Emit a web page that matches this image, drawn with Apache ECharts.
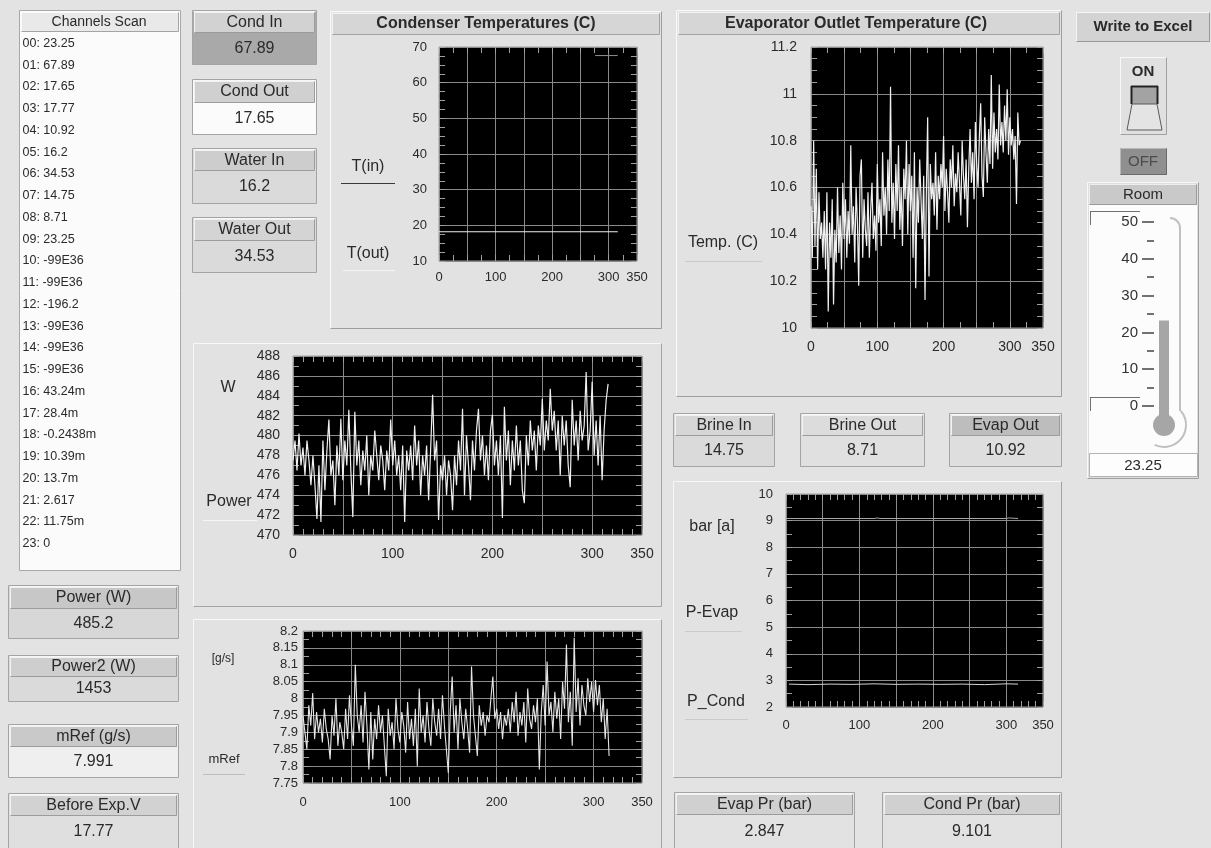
<!DOCTYPE html>
<html><head><meta charset="utf-8">
<script src="https://cdn.jsdelivr.net/npm/echarts@6/dist/echarts.min.js"></script>
<style>html,body{margin:0;padding:0;background:#e3e3e3;}#c{width:1211px;height:848px;}</style>
</head><body><div id="c"></div>
<script>
// ================= DATA =================
const channelScan = ['00: 23.25','01: 67.89','02: 17.65','03: 17.77','04: 10.92','05: 16.2','06: 34.53','07: 14.75','08: 8.71','09: 23.25','10: -99E36','11: -99E36','12: -196.2','13: -99E36','14: -99E36','15: -99E36','16: 43.24m','17: 28.4m','18: -0.2438m','19: 10.39m','20: 13.7m','21: 2.617','22: 11.75m','23: 0'];
const condBoxLabels = ['Cond In','Cond Out','Water In','Water Out'];
const condBoxValues = ['67.89','17.65','16.2','34.53'];
const leftBoxLabels = ['Power (W)','Power2 (W)','mRef (g/s)','Before Exp.V'];
const leftBoxValues = ['485.2','1453','7.991','17.77'];
const brineLabels = ['Brine In','Brine Out','Evap Out'];
const brineValues = ['14.75','8.71','10.92'];
const presLabels = ['Evap Pr (bar)','Cond Pr (bar)'];
const presValues = ['2.847','9.101'];
const xTickLabels = [0,100,200,300,350];
const roomTemp = [23.25];

const SAMPLE_STEP = 2;
const evapOutlet = [
 10.52,10.30,10.80,10.35,10.68,10.25,10.58,10.38,10.45,10.30,
 10.50,10.25,10.58,10.07,10.45,10.30,10.55,10.10,10.42,10.28,
 10.60,10.32,10.48,10.25,10.62,10.38,10.55,10.30,10.50,10.36,
 10.78,10.40,10.52,10.28,10.60,10.45,10.18,10.65,10.72,10.30,
 10.55,10.42,10.35,10.58,10.30,10.50,10.62,10.38,10.48,10.33,
 10.70,10.45,10.55,10.35,10.75,10.48,10.60,10.40,10.72,10.50,
 11.03,10.45,10.62,10.38,10.70,10.50,10.78,10.42,10.60,10.35,
 10.68,10.55,10.80,10.40,10.70,10.50,10.65,10.30,10.75,10.17,
 10.60,10.45,10.72,10.55,10.38,10.65,10.12,10.58,10.90,10.22,
 10.70,10.55,10.62,10.48,10.75,10.42,10.65,10.55,10.70,10.60,
 10.82,10.50,10.68,10.58,10.45,10.72,10.60,10.78,10.52,10.66,
 10.58,10.75,10.62,10.48,10.80,10.65,10.55,10.72,10.43,10.68,
 10.85,10.62,10.75,10.55,10.88,10.70,10.60,10.82,10.96,10.65,
 10.56,10.90,10.75,10.62,10.85,10.70,11.08,10.68,10.92,10.75,
 10.85,10.72,11.04,10.78,10.88,10.75,10.95,10.80,11.02,10.74,
 10.90,10.78,10.85,10.72,10.82,10.53,10.92,10.78,10.80];
const powerW = [
 477.5,479.5,476.5,480.2,477.0,478.8,476.0,479.5,477.5,475.0,
 478.0,475.0,471.6,477.0,471.3,479.5,474.5,478.5,481.6,476.0,
 477.5,473.0,479.0,476.0,481.7,475.5,479.5,477.0,482.6,476.5,
 471.8,482.4,477.0,479.5,475.0,478.5,476.5,480.0,474.0,478.0,
 476.5,480.5,478.0,475.5,479.0,477.5,474.5,478.5,476.5,481.6,
 477.0,479.5,476.0,478.0,474.5,479.0,471.3,478.5,476.5,479.0,
 475.5,481.0,477.0,479.5,474.0,478.0,476.0,479.0,473.5,478.5,
 484.1,477.5,479.5,471.5,477.0,475.5,478.0,474.0,477.5,476.0,
 472.5,478.0,475.0,479.5,476.5,482.7,474.0,480.0,477.0,473.5,
 479.5,476.5,480.5,482.7,477.5,480.0,476.0,479.0,475.5,480.5,
 482.1,477.0,479.5,476.0,480.0,471.7,482.9,477.5,480.5,475.0,
 479.5,476.5,481.0,477.0,479.5,474.5,473.2,480.0,477.0,481.5,
 478.5,480.5,476.5,481.0,479.0,483.7,478.5,481.5,479.5,484.7,
 480.5,482.5,478.5,481.5,476.0,482.0,479.0,481.5,477.0,474.8,
 483.6,479.0,481.5,477.5,482.5,479.5,481.0,486.4,478.5,480.5,
 485.4,478.0,481.5,477.0,482.0,475.5,480.5,483.5,485.2];
const mRefGs = [
 7.95,7.90,7.85,7.98,7.92,8.016,7.88,7.96,7.90,7.94,
 7.87,7.97,7.91,7.88,7.82,7.95,7.89,8.00,7.86,7.93,
 7.90,7.85,7.97,7.88,8.01,7.92,7.86,8.10,7.95,7.90,
 7.98,7.87,8.02,7.92,7.79,7.96,7.82,7.94,7.88,7.98,
 7.90,7.95,7.86,7.77,7.97,7.89,7.93,7.85,8.00,7.91,
 7.87,7.96,7.92,7.84,7.99,7.88,7.94,7.86,7.97,7.80,
 8.03,7.90,7.95,7.87,7.99,7.91,7.86,8.00,7.93,7.89,
 7.97,7.88,8.01,7.92,7.85,7.78,7.96,8.065,7.90,7.98,
 7.85,8.00,7.93,7.88,7.97,7.91,7.84,8.095,7.95,7.89,
 7.83,7.98,7.92,7.96,7.89,7.95,7.93,8.00,8.065,7.94,
 7.97,7.91,7.96,7.88,7.95,7.92,7.97,7.90,7.99,7.93,
 8.02,7.89,7.96,7.92,7.99,7.87,8.03,7.94,7.91,7.98,
 7.93,8.00,7.79,7.96,8.04,7.92,8.11,7.95,7.99,7.90,
 8.02,7.94,8.00,7.88,8.05,7.97,8.16,7.93,8.02,7.86,
 8.18,7.96,8.06,7.92,8.04,7.98,7.95,8.06,7.99,8.05,
 7.96,8.055,7.98,8.04,7.93,8.00,7.88,7.97,7.83];
const condTinX = [276, 316];
const condTinY = [67.6, 67.6];
const condToutX = [0, 316];
const condToutY = [18.2, 18.2];
const pCondX = [0, 120, 124, 128, 300, 304, 316];
const pCondY = [9.08, 9.08, 9.1, 9.08, 9.08, 9.1, 9.08];
const pEvapX = [4, 30, 60, 90, 120, 150, 180, 210, 240, 270, 300, 316];
const pEvapY = [2.86, 2.84, 2.86, 2.85, 2.87, 2.85, 2.86, 2.85, 2.86, 2.84, 2.87, 2.86];

// ================= HELPERS =================
const FONT = '"Liberation Sans", Arial, Helvetica, sans-serif';
const TXT = '#2a2a2a';
const AXC = '#a0a0a0', GRIDC = '#8a8a8a';
const grids = [], xAxes = [], yAxes = [], series = [], G = [];
let zc = 0;
function push(el){ el.z = -1; el.z2 = zc++; el.silent = true; G.push(el); }
function rect(x,y,w,h,fill,stroke){ push({type:'rect', shape:{x:x,y:y,width:w,height:h}, style:{fill:fill, stroke:stroke||null, lineWidth:1}}); }
function line(x1,y1,x2,y2,stroke,lw){ push({type:'line', shape:{x1:x1,y1:y1,x2:x2,y2:y2}, style:{stroke:stroke, lineWidth:lw||1}}); }
function text(t,x,y,size,o){ o=o||{}; const al=o.align||'center';
  push({type:'text', style:{text:t, x:x, y:y, fill:o.color||TXT, font:(o.bold?'bold ':'')+size+'px '+FONT, align:al, verticalAlign:'middle', textAlign:al, textVerticalAlign:'middle'}}); }
function bevel(x,y,w,h,fill,light,dark){ rect(x,y,w,h,fill);
  line(x+.5,y+.5,x+w-.5,y+.5,light); line(x+.5,y+.5,x+.5,y+h-.5,light);
  line(x+.5,y+h-.5,x+w-.5,y+h-.5,dark); line(x+w-.5,y+.5,x+w-.5,y+h-.5,dark); }
function readout(x,y,w,h,hh,label,value,hFill,vFill){
  rect(x+.5,y+.5,w-1,h-1,vFill,'#a4a4a4');
  line(x+1.5,y+1.5,x+w-1.5,y+1.5,'#f6f6f6');
  bevel(x+2,y+2,w-4,hh-2,hFill,'#f2f2f2','#9c9c9c');
  text(label,x+w/2,y+1+hh/2,16);
  text(value,x+w/2,y+hh+(h-hh)/2-0.5,16);
}
function pairs(xs,ys){ return xs.map((x,i)=>[x,ys[i]]); }
function sampled(vals){ return vals.map((v,i)=>[i*SAMPLE_STEP,v]); }

function tickCfg(minorSplit){
  return {
    axisLine:{show:false, onZero:false},
    axisTick:{show:true, inside:true, length:6, lineStyle:{color:AXC}},
    minorTick:{show:true, splitNumber:minorSplit, length:6, lineStyle:{color:AXC}}
  };
}
function addPlot(o){
  const gi = grids.length;
  grids.push({left:o.l, top:o.t, width:o.w, height:o.h, show:true, backgroundColor:'#000', borderColor:'#a0a0a0', borderWidth:1});
  const xi = xAxes.length, yi = yAxes.length;
  xAxes.push(Object.assign({gridIndex:gi, type:'value', min:0, max:350, interval:50, position:'bottom',
    splitLine:{show:true, lineStyle:{color:GRIDC, width:1}},
    axisLabel:{margin:o.xm, color:TXT, fontSize:o.fs, fontFamily:FONT,
      formatter: v => xTickLabels.indexOf(v) >= 0 ? String(v) : ''}}, tickCfg(o.xMinor)));
  xAxes.push(Object.assign({gridIndex:gi, type:'value', min:0, max:350, interval:50, position:'top',
    splitLine:{show:false}, axisLabel:{show:false}}, tickCfg(o.xMinor)));
  yAxes.push(Object.assign({gridIndex:gi, type:'value', min:o.ymin, max:o.ymax, interval:o.yint, position:'left',
    splitLine:{show:true, lineStyle:{color:GRIDC, width:1}},
    axisLabel:{margin:o.ym, color:TXT, fontSize:o.fs, fontFamily:FONT}}, tickCfg(o.yMinor)));
  yAxes.push(Object.assign({gridIndex:gi, type:'value', min:o.ymin, max:o.ymax, interval:o.yint, position:'right',
    splitLine:{show:false}, axisLabel:{show:false}}, tickCfg(o.yMinor)));
  return {xi:xi, yi:yi};
}
function addLine(ax, data, color, w){
  series.push({type:'line', xAxisIndex:ax.xi, yAxisIndex:ax.yi, data:data, showSymbol:false, symbol:'none',
    lineStyle:{color:color, width:w||1}, animation:false, silent:true, clip:true});
}

// ================= PANELS =================
rect(19.5,10.5,161,560,'#fbfbfb','#a8a8a8');
bevel(21,12,158,20,'#e9e9e9','#fafafa','#a4a4a4');
text('Channels Scan',99,22.5,14);
channelScan.forEach((s,i)=> text(s,22.5,43.3+i*21.76,12.5,{align:'left'}));

const leftBoxGeom = [[585,54,24],[655,47,22],[724,54,23],[793,56,23]];
const leftFills = [['#c7c7c7','#d7d7d7'],['#cecece','#dadada'],['#c9c9c9','#efefef'],['#d2d2d2','#dfdfdf']];
leftBoxLabels.forEach((lb,i)=>{ const g=leftBoxGeom[i]; readout(8,g[0],171,g[1],g[2],lb,leftBoxValues[i],leftFills[i][0],leftFills[i][1]); });

const condBoxGeom = [[10,55,23],[79,56,24],[148,56,23],[217,56,24]];
const condFills = [['#d2d2d2','#a9a9a9'],['#d0d0d0','#fbfbfb'],['#cdcdcd','#dadada'],['#d4d4d4','#dadada']];
condBoxLabels.forEach((lb,i)=>{ const g=condBoxGeom[i]; readout(192,g[0],125,g[1],g[2],lb,condBoxValues[i],condFills[i][0],condFills[i][1]); });

bevel(330,11,332,318,'#e2e2e2','#fafafa','#9e9e9e');
bevel(332,13,328,22,'#d6d6d6','#f4f4f4','#a2a2a2');
text('Condenser Temperatures (C)',486,24,16,{bold:true});
text('T(in)',368,167,16); line(341,183.5,395,183.5,'#3a3a3a');
text('T(out)',368,254,16); line(343,270.5,395,270.5,'#f4f4f4');

bevel(676,10,386,387,'#e2e2e2','#fafafa','#9e9e9e');
bevel(678,12,382,23,'#d6d6d6','#f4f4f4','#a2a2a2');
text('Evaporator Outlet Temperature (C)',856,24,16,{bold:true});
text('Temp. (C)',723,243,16); line(685,261.5,762,261.5,'#c9c9c9');

bevel(193,343,469,264,'#e2e2e2','#f8f8f8','#a4a4a4');
text('W',228,388,16);
text('Power',229,502,16); line(203,520.5,257,520.5,'#f6f6f6');

bevel(193,619,469,240,'#e2e2e2','#f8f8f8','#a4a4a4');
text('[g/s]',223,659,12);
text('mRef',224,759,13); line(203,774.5,245,774.5,'#bdbdbd');

const brineGeom = [[673,102],[800,125],[949,113]];
const brineFills = [['#d6d6d6','#dadada'],['#dcdcdc','#e0e0e0'],['#bdbdbd','#dedede']];
brineLabels.forEach((lb,i)=>{ const g=brineGeom[i]; readout(g[0],413,g[1],54,23,lb,brineValues[i],brineFills[i][0],brineFills[i][1]); });

bevel(673,481,389,297,'#e2e2e2','#f8f8f8','#a4a4a4');
text('bar [a]',712,527,16);
text('P-Evap',712,613,16); line(685,631.5,742,631.5,'#cbcbcb');
text('P_Cond',716,702,16); line(685,719.5,748,719.5,'#cbcbcb');

const presGeom = [[674,181],[882,180]];
presLabels.forEach((lb,i)=>{ const g=presGeom[i]; readout(g[0],792,g[1],58,23,lb,presValues[i],'#d0d0d0','#e2e2e2'); });

bevel(1076,12,134,30,'#d3d3d3','#f6f6f6','#9a9a9a');
text('Write to Excel',1143,27,15,{bold:true});
bevel(1120,57,47,78,'#e0e0e0','#f8f8f8','#a0a0a0');
text('ON',1143,72,15,{bold:true});
rect(1131,86,27,18,'#a3a3a3');
line(1131.5,86,1131.5,104,'#222',2); line(1131,86.5,1158,86.5,'#222',2); line(1157.5,86,1157.5,104,'#222',2);
push({type:'polygon', shape:{points:[[1132,104],[1157,104],[1162,130],[1127,130]]}, style:{fill:'#e4e4e4', stroke:'#5a5a5a', lineWidth:1}});
bevel(1120,148,47,27,'#8f8f8f','#b8b8b8','#6a6a6a');
text('OFF',1143,162,15,{color:'#4c4c4c'});

bevel(1087,182,112,297,'#dedede','#f8f8f8','#a0a0a0');
rect(1089,205,108,248,'#fcfcfc');
bevel(1089,184,108,21,'#c9c9c9','#eeeeee','#9a9a9a');
text('Room',1143,195,15);
rect(1089.5,453.5,108,23,'#fdfdfd','#b4b4b4');
text(String(roomTemp[0]),1143,466,15);
line(1090,211.5,1140,211.5,'#707070'); line(1090.5,211,1090.5,225,'#707070');
line(1090,397.5,1140,397.5,'#707070'); line(1090.5,397,1090.5,411,'#707070');
push({type:'arc', shape:{cx:1170,cy:228,r:10,startAngle:-Math.PI/2,endAngle:0,clockwise:true}, style:{stroke:'#c0c0c0', fill:null, lineWidth:2}});
line(1180,228,1180,411,'#c0c0c0',2);
push({type:'arc', shape:{cx:1164,cy:425,r:22,startAngle:-40*Math.PI/180,endAngle:115*Math.PI/180,clockwise:true}, style:{stroke:'#c0c0c0', fill:null, lineWidth:2}});
rect(1159,404,10,16,'#a6a6a6');
push({type:'circle', shape:{cx:1164,cy:425,r:11}, style:{fill:'#a6a6a6'}});

// ================= PLOTS =================
const pCond = addPlot({l:439,t:47,w:198,h:214,ymin:10,ymax:70,yint:10,yMinor:4,xMinor:2,fs:13,ym:12,xm:10});
addLine(pCond, pairs(condTinX,condTinY), '#8e8e8e');
addLine(pCond, pairs(condToutX,condToutY), '#eeeeee');

const pEvapT = addPlot({l:811,t:47,w:232,h:281,ymin:10,ymax:11.2,yint:0.2,yMinor:4,xMinor:2,fs:14,ym:14,xm:12});
addLine(pEvapT, sampled(evapOutlet), '#f0f0f0', 1.2);

const pPow = addPlot({l:293,t:356,w:349,h:179,ymin:470,ymax:488,yint:2,yMinor:2,xMinor:5,fs:14,ym:13,xm:12});
addLine(pPow, sampled(powerW), '#f0f0f0', 1.2);

const pMref = addPlot({l:303,t:631,w:339,h:152,ymin:7.75,ymax:8.2,yint:0.05,yMinor:2,xMinor:5,fs:13,ym:5,xm:13});
addLine(pMref, sampled(mRefGs), '#e6e6e6', 1.1);

const pPres = addPlot({l:786,t:494,w:257,h:213,ymin:2,ymax:10,yint:1,yMinor:2,xMinor:5,fs:13,ym:13,xm:12});
addLine(pPres, pairs(pCondX,pCondY), '#a8a8a8');
addLine(pPres, pairs(pEvapX,pEvapY), '#d4d4d4');

const tg = grids.length;
grids.push({left:1159, top:222, width:10, height:184, show:false});
const txi = xAxes.length, tyi = yAxes.length;
xAxes.push({gridIndex:tg, type:'category', data:['Room'], show:false});
yAxes.push({gridIndex:tg, type:'value', min:0, max:50, interval:10, position:'left', offset:5,
  axisLine:{show:false, onZero:false}, axisTick:{show:true, length:12, lineStyle:{color:'#444', width:1.5}},
  minorTick:{show:true, splitNumber:2, length:7, lineStyle:{color:'#444', width:1.5}},
  splitLine:{show:false}, axisLabel:{margin:16, fontSize:15, color:'#333', fontFamily:FONT}});
series.push({type:'bar', xAxisIndex:txi, yAxisIndex:tyi, data:roomTemp, barWidth:10, itemStyle:{color:'#a6a6a6'}, animation:false, silent:true});

const chart = echarts.init(document.getElementById('c'), null, {renderer:'canvas'});
chart.setOption({
  backgroundColor:'#e3e3e3',
  animation:false,
  textStyle:{fontFamily:FONT},
  grid:grids, xAxis:xAxes, yAxis:yAxes, series:series,
  graphic:{elements:G}
});
</script></body></html>
